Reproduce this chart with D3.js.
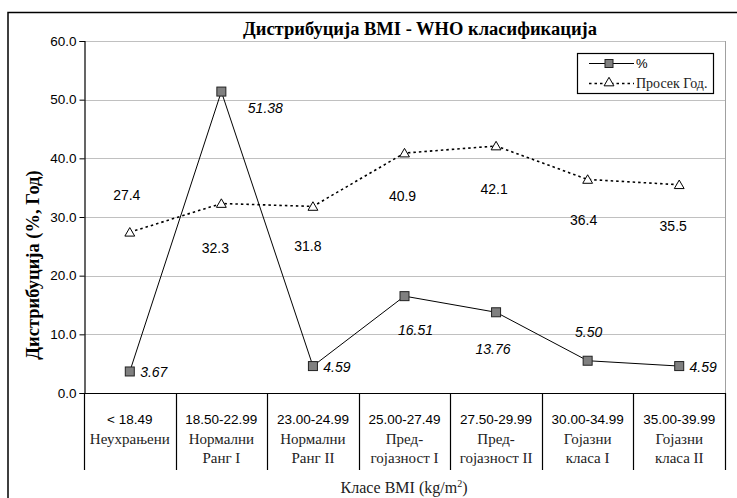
<!DOCTYPE html>
<html>
<head>
<meta charset="utf-8">
<script src="https://cdn.jsdelivr.net/npm/d3@7"></script>
<style>
  html, body { margin: 0; padding: 0; background: #fff; }
  svg { display: block; }
</style>
</head>
<body>
<svg id="chart" width="737" height="498"></svg>
<script>
// BMI classes (WHO) with their ranges and Serbian names
const ranges = ["< 18.49", "18.50-22.99", "23.00-24.99", "25.00-27.49", "27.50-29.99", "30.00-34.99", "35.00-39.99"];
const names = [["Неухрањени"], ["Нормални", "Ранг I"], ["Нормални", "Ранг II"], ["Пред-", "гојазност I"], ["Пред-", "гојазност II"], ["Гојазни", "класа I"], ["Гојазни", "класа II"]];

// Share of respondents per class (%)
const percent = [3.67, 51.38, 4.59, 16.51, 13.76, 5.50, 4.59];
// Average age per class (years)
const avgAge = [27.4, 32.3, 31.8, 40.9, 42.1, 36.4, 35.5];

const yTicks = [0, 10, 20, 30, 40, 50, 60];

// Label placement relative to each point (label centre)
const percentLabelOffset = [[24, 1], [44, 16], [24, 1], [11, 34], [-3, 37], [1, -29], [24, 1]];
const ageLabelOffset = [[-3, -37], [-6, 44], [-5, 40], [-2, 43], [-2, 43], [-4, 41], [-6, 41]];

const svg = d3.select("#chart");
const plotLeft = 84, plotRight = 725, plotTop = 41, plotBottom = 393;
const SANS = "'Liberation Sans', Arial, sans-serif";
const SERIF = "'Liberation Serif', 'Times New Roman', serif";

const x = d3.scaleBand().domain(d3.range(ranges.length)).range([plotLeft, plotRight]).paddingInner(0).paddingOuter(0);
const y = d3.scaleLinear().domain([0, 60]).range([plotBottom, plotTop]);
const cx = i => x(i) + x.bandwidth() / 2;

// Outer chart frame
svg.append("path")
  .attr("d", `M8,${498 + 5} L8,12.5 L${737 + 5},12.5`)
  .attr("fill", "none").attr("stroke", "#000").attr("stroke-width", 1.5);

// Title
svg.append("text")
  .attr("x", 420).attr("y", 35)
  .attr("text-anchor", "middle")
  .attr("font-family", SERIF).attr("font-weight", "bold").attr("font-size", 18.5)
  .text("Дистрибуција BMI - WHO класификација");

// Horizontal gridlines
svg.append("g").selectAll("line").data(yTicks.filter(t => t > 0)).join("line")
  .attr("x1", plotLeft).attr("x2", plotRight)
  .attr("y1", d => Math.round(y(d)) + 0.5).attr("y2", d => Math.round(y(d)) + 0.5)
  .attr("stroke", "#c0c0c0").attr("stroke-width", 1);

// Right edge of plot area
svg.append("line")
  .attr("x1", plotRight + 0.5).attr("x2", plotRight + 0.5).attr("y1", plotTop).attr("y2", plotBottom)
  .attr("stroke", "#a0a0a0").attr("stroke-width", 1);

// Y axis
const yAxis = d3.axisLeft(y).tickValues(yTicks).tickFormat(d3.format(".1f")).tickSize(5).tickPadding(3);
const yg = svg.append("g").attr("transform", `translate(${plotLeft + 0.5},0)`).call(yAxis);
yg.select(".domain").attr("stroke", "#000").attr("stroke-width", 1.2);
yg.selectAll(".tick line").attr("stroke", "#000");
yg.selectAll(".tick text")
  .attr("font-family", SANS).attr("font-size", 13.5).attr("fill", "#000");

// Y axis title
svg.append("text")
  .attr("transform", "translate(39,265) rotate(-90)")
  .attr("text-anchor", "middle")
  .attr("font-family", SERIF).attr("font-weight", "bold").attr("font-size", 18.5)
  .text("Дистрибуција (%, Год)");

// X axis line and category separators
svg.append("line")
  .attr("x1", plotLeft - 4).attr("x2", plotRight + 1).attr("y1", plotBottom + 0.5).attr("y2", plotBottom + 0.5)
  .attr("stroke", "#000").attr("stroke-width", 1.2);
svg.append("g").selectAll("line").data(d3.range(ranges.length + 1)).join("line")
  .attr("x1", i => Math.round(i < ranges.length ? x(i) : plotRight) + 0.5)
  .attr("x2", i => Math.round(i < ranges.length ? x(i) : plotRight) + 0.5)
  .attr("y1", plotBottom).attr("y2", 470)
  .attr("stroke", "#000").attr("stroke-width", 1.2);

// Category labels: range row and name rows
const cat = svg.append("g");
cat.selectAll("text.range").data(ranges).join("text")
  .attr("class", "range")
  .attr("x", (d, i) => cx(i)).attr("y", 424)
  .attr("text-anchor", "middle")
  .attr("font-family", SANS).attr("font-size", 13.5)
  .text(d => d);
names.forEach((lines, i) => {
  lines.forEach((ln, j) => {
    cat.append("text")
      .attr("x", cx(i)).attr("y", 444 + j * 19)
      .attr("text-anchor", "middle")
      .attr("font-family", SERIF).attr("font-size", 15).attr("fill", "#222")
      .text(ln);
  });
});

// X axis title
const xt = svg.append("text")
  .attr("x", 404).attr("y", 493)
  .attr("text-anchor", "middle")
  .attr("font-family", SERIF).attr("font-size", 16).attr("fill", "#222");
xt.append("tspan").text("Класе BMI (kg/m");
xt.append("tspan").attr("font-size", 10).attr("dy", -6).text("2");
xt.append("tspan").attr("dy", 6).text(")");

// Average age series: dotted line with open triangles
const line = d3.line().x((d, i) => cx(i)).y(d => y(d));
svg.append("path").datum(avgAge)
  .attr("d", line).attr("fill", "none")
  .attr("stroke", "#000").attr("stroke-width", 1.6).attr("stroke-dasharray", "2.5,3");
const tri = d3.symbol().type(d3.symbolTriangle).size(42);
svg.append("g").selectAll("path").data(avgAge).join("path")
  .attr("d", tri)
  .attr("transform", (d, i) => `translate(${cx(i)},${y(d) + 1})`)
  .attr("fill", "#fff").attr("stroke", "#000").attr("stroke-width", 1);

// Percent series: solid line with grey squares
svg.append("path").datum(percent)
  .attr("d", line).attr("fill", "none")
  .attr("stroke", "#000").attr("stroke-width", 1);
svg.append("g").selectAll("rect").data(percent).join("rect")
  .attr("x", (d, i) => cx(i) - 4.5).attr("y", d => y(d) - 4.5)
  .attr("width", 9).attr("height", 9)
  .attr("fill", "#808080").attr("stroke", "#222").attr("stroke-width", 1);

// Data labels
svg.append("g").selectAll("text").data(avgAge).join("text")
  .attr("x", (d, i) => cx(i) + ageLabelOffset[i][0])
  .attr("y", (d, i) => y(d) + ageLabelOffset[i][1])
  .attr("text-anchor", "middle").attr("dominant-baseline", "central")
  .attr("font-family", SANS).attr("font-size", 14)
  .text(d => d.toFixed(1));
svg.append("g").selectAll("text").data(percent).join("text")
  .attr("x", (d, i) => cx(i) + percentLabelOffset[i][0])
  .attr("y", (d, i) => y(d) + percentLabelOffset[i][1])
  .attr("text-anchor", "middle").attr("dominant-baseline", "central")
  .attr("font-family", SANS).attr("font-size", 14).attr("font-style", "italic")
  .text(d => d.toFixed(2));

// Legend
const lg = svg.append("g");
lg.append("rect").attr("x", 577.5).attr("y", 53.5).attr("width", 136).attr("height", 40)
  .attr("fill", "#fff").attr("stroke", "#000").attr("stroke-width", 1.2);
lg.append("line").attr("x1", 589).attr("x2", 634).attr("y1", 63.5).attr("y2", 63.5)
  .attr("stroke", "#000").attr("stroke-width", 1);
lg.append("rect").attr("x", 605).attr("y", 59.5).attr("width", 8).attr("height", 8)
  .attr("fill", "#808080").attr("stroke", "#222");
lg.append("text").attr("x", 636).attr("y", 68)
  .attr("font-family", SANS).attr("font-size", 13).text("%");
lg.append("line").attr("x1", 589).attr("x2", 634).attr("y1", 83.5).attr("y2", 83.5)
  .attr("stroke", "#000").attr("stroke-width", 1.6).attr("stroke-dasharray", "2.5,3");
lg.append("path").attr("d", tri).attr("transform", "translate(609,83)")
  .attr("fill", "#fff").attr("stroke", "#000");
lg.append("text").attr("x", 636).attr("y", 88)
  .attr("font-family", SERIF).attr("font-size", 14).attr("fill", "#222").text("Просек Год.");
</script>
</body>
</html>
